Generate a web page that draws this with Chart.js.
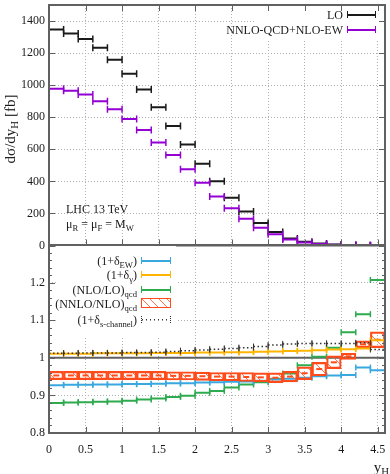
<!DOCTYPE html>
<html>
<head>
<meta charset="utf-8">
<script src="https://cdn.jsdelivr.net/npm/chart.js@4.4.1/dist/chart.umd.min.js"></script>
<style>
  body { margin: 0; background: #fff; width: 390px; height: 474px; overflow: hidden; position: relative;
         font-family: "Liberation Serif", serif; color: #1a1a1a; }
  .box { position: absolute; left: 0; width: 390px; }
  .txt { position: absolute; white-space: nowrap; font-size: 12px; line-height: 16px; }
  .txt sub { font-size: 0.72em; vertical-align: -0.3em; line-height: 0; }
  .eb { position: absolute; height: 7px; box-sizing: border-box; }
</style>
</head>
<body>
<div class="box" style="top:0;height:258px"><canvas id="topChart"></canvas></div>
<div class="box" style="top:240px;height:234px"><canvas id="ratioChart"></canvas></div>

<!-- axis titles -->
<div class="txt" style="left:-70px;top:121px;width:160px;text-align:center;font-size:15px;transform:rotate(-90deg)">dσ/dy<sub>H</sub> [fb]</div>
<div class="txt" style="right:1px;top:459px;font-size:15px">y<sub>H</sub></div>

<!-- top panel notes -->
<div class="txt" style="left:66px;top:201px">LHC 13 TeV</div>
<div class="txt" style="left:66px;top:216px">μ<sub>R</sub> = μ<sub>F</sub> = M<sub>W</sub></div>

<!-- top legend -->
<div class="txt" style="right:47px;top:7px">LO</div>
<div class="eb" id="lgLO" style="left:347px;top:11px;width:29px"></div>
<div class="txt" style="right:47px;top:22px">NNLO-QCD+NLO-EW</div>
<div class="eb" id="lgNNLO" style="left:347px;top:26px;width:29px"></div>

<!-- ratio legend -->
<div class="txt" style="right:253px;top:253px">(1+δ<sub>EW</sub>)</div>
<div class="eb" id="lgEW" style="left:141px;top:257px;width:30px"></div>
<div class="txt" style="right:253px;top:267px">(1+δ<sub>γ</sub>)</div>
<div class="eb" id="lgGam" style="left:141px;top:271px;width:30px"></div>
<div class="txt" style="right:253px;top:282px">(NLO/LO)<sub>qcd</sub></div>
<div class="eb" id="lgNLO" style="left:141px;top:286px;width:30px"></div>
<div class="txt" style="right:253px;top:296px">(NNLO/NLO)<sub>qcd</sub></div>
<div class="eb" id="lgNNLONLO" style="left:141px;top:298px;width:30px;height:10px"></div>
<div class="txt" style="right:253px;top:312px">(1+δ<sub>s-channel</sub>)</div>
<div class="eb" id="lgS" style="left:141px;top:316px;width:30px"></div>

<script>
// ==========================================
// DATA
// ==========================================

// rapidity bins (edges), 0.2 wide
const binEdges = [0, 0.2, 0.4, 0.6, 0.8, 1.0, 1.2, 1.4, 1.6, 1.8, 2.0, 2.2,
  2.4, 2.6, 2.8, 3.0, 3.2, 3.4, 3.6, 3.8, 4.0, 4.2, 4.4, 4.6];

// top panel: dsigma/dy_H [fb]
const loXsec = [1347, 1322, 1288, 1233, 1159, 1071, 973, 863, 746, 630, 510, 400,
  298, 212, 140, 84, 44, 24, 13, 6, 3, 1.2, 0.4];
const nnloXsec = [977, 965, 942, 900, 850, 789, 720, 642, 565, 475, 391, 305,
  232, 167, 110, 70, 38, 18, 9, 4.5, 2.2, 1, 0.4];

// ratio panel
const ewRatio = [0.927, 0.928, 0.928, 0.929, 0.929, 0.930, 0.930, 0.931, 0.932, 0.932, 0.934, 0.935,
  0.936, 0.937, 0.939, 0.942, 0.944, 0.947, 0.951, 0.953, 0.954, 0.974, 0.967];
const gammaRatio = [1.011, 1.011, 1.011, 1.012, 1.012, 1.012, 1.012, 1.013, 1.013, 1.013, 1.014, 1.014,
  1.015, 1.015, 1.016, 1.017, 1.018, 1.019, 1.020, 1.022, 1.023, 1.025, 1.047];
const nloLoRatio = [0.880, 0.881, 0.882, 0.883, 0.884, 0.886, 0.889, 0.892, 0.896, 0.899, 0.907, 0.912,
  0.921, 0.929, 0.935, 0.944, 0.958, 0.980, 1.003, 1.027, 1.068, 1.116, 1.207];
const nnloNloRatio = [0.953, 0.953, 0.953, 0.953, 0.953, 0.953, 0.953, 0.953, 0.952, 0.952, 0.951, 0.950,
  0.950, 0.949, 0.948, 0.947, 0.950, 0.959, 0.970, 0.988, 1.004, 1.036, 1.048];
const nnloNloErr = [0.011, 0.011, 0.011, 0.011, 0.011, 0.011, 0.011, 0.011, 0.011, 0.011, 0.011, 0.011,
  0.011, 0.012, 0.012, 0.013, 0.014, 0.017, 0.018, 0.017, 0.008, 0.009, 0.021];
const sChannelRatio = [1.012, 1.012, 1.013, 1.013, 1.013, 1.014, 1.014, 1.015, 1.017, 1.019, 1.021, 1.023,
  1.025, 1.027, 1.030, 1.034, 1.037, 1.038, 1.038, 1.038, 1.038, 1.040, 1.022];

// axis ticks
const xTickStep = 0.5;
const topYTickStep = 200;
const ratioYTickStep = 0.1;

// ==========================================
// COLORS / HELPERS
// ==========================================

const FRAME = "#606060";
const GRID = "#b0b0b0";
const C_LO = "#1a1a1a";
const C_NNLO = "#9400d3";
const C_EW = "#3aa8e0";
const C_GAM = "#ffb400";
const C_NLO = "#2eaa4f";
const C_RED = "#ff4b1a";
const C_S = "#333333";

Chart.defaults.font.family = "'Liberation Serif', serif";
Chart.defaults.font.size = 12;
Chart.defaults.color = "#1a1a1a";

// one horizontal segment per bin, broken by a null point
function binSegments(values) {
  const pts = [];
  values.forEach((v, i) => {
    pts.push({ x: binEdges[i], y: v }, { x: binEdges[i + 1], y: v }, { x: binEdges[i + 1], y: null });
  });
  return pts;
}

function binCenters(values) {
  return values.map((v, i) => ({ x: (binEdges[i] + binEdges[i + 1]) / 2, y: v }));
}

function errorBarSet(values, color, order, opts) {
  return Object.assign({
    type: "line",
    data: binSegments(values),
    borderColor: color,
    borderWidth: 2,
    pointStyle: "line",
    pointRotation: 90,
    pointRadius: 3.5,
    pointBorderWidth: 1.5,
    pointBorderColor: color,
    pointHoverRadius: 0,
    spanGaps: false,
    tension: 0,
    order: order,
  }, opts || {});
}

function hatchPattern(color) {
  const c = document.createElement("canvas");
  c.width = c.height = 12;
  const g = c.getContext("2d");
  g.strokeStyle = color;
  g.lineWidth = 1;
  g.beginPath();
  g.moveTo(0, 0); g.lineTo(12, 12);
  g.moveTo(-2, 10); g.lineTo(2, 14);
  g.moveTo(10, -2); g.lineTo(14, 2);
  g.stroke();
  return g.createPattern(c, "repeat");
}

// frame, inward ticks, white legend areas, reference line
const framePlugin = {
  id: "frame",
  beforeDatasetsDraw(chart, args, opts) {
    const ctx = chart.ctx;
    ctx.save();
    if (opts.blank) {
      ctx.fillStyle = "#fff";
      ctx.fillRect(opts.blank[0], opts.blank[1], opts.blank[2], opts.blank[3]);
    }
    if (opts.refLine !== undefined) {
      const a = chart.chartArea;
      const py = chart.scales.y.getPixelForValue(opts.refLine);
      ctx.strokeStyle = FRAME;
      ctx.lineWidth = 2;
      ctx.beginPath();
      ctx.moveTo(a.left, py);
      ctx.lineTo(a.right, py);
      ctx.stroke();
    }
    ctx.restore();
  },
  afterDraw(chart, args, opts) {
    const { ctx, chartArea: a, scales: { x, y } } = chart;
    ctx.save();
    ctx.strokeStyle = FRAME;
    ctx.lineWidth = 1;
    const seg = (x1, y1, x2, y2) => { ctx.beginPath(); ctx.moveTo(x1, y1); ctx.lineTo(x2, y2); ctx.stroke(); };
    x.ticks.forEach((t) => {
      const px = Math.round(x.getPixelForValue(t.value)) + 0.5;
      seg(px, a.bottom, px, a.bottom - 6);
      if (opts.topTicks) seg(px, a.top, px, a.top + 6);
    });
    y.ticks.forEach((t) => {
      const py = Math.round(y.getPixelForValue(t.value)) + 0.5;
      seg(a.left, py, a.left + 6, py);
      seg(a.right, py, a.right - 6, py);
    });
    if (opts.minorY) {
      for (let v = y.min; v <= y.max + 1e-9; v += opts.minorY) {
        const py = Math.round(y.getPixelForValue(v)) + 0.5;
        seg(a.left, py, a.left + 3, py);
        seg(a.right, py, a.right - 3, py);
      }
    }
    ctx.lineWidth = 2;
    ctx.strokeRect(a.left, a.top, a.right - a.left, a.bottom - a.top);
    ctx.restore();
  },
};

function fmt(v) {
  return String(Number(v.toFixed(2)));
}

function fitY(s) {
  s.width = 49;
  s.paddingTop = 0;
  s.paddingBottom = 0;
}

function fitX(h) {
  return (s) => {
    s.height = h;
    s.paddingLeft = 0;
    s.paddingRight = 0;
  };
}

// ==========================================
// TOP PANEL
// ==========================================

new Chart(document.getElementById("topChart"), {
  type: "line",
  data: {
    datasets: [
      errorBarSet(nnloXsec, C_NNLO, 0),
      errorBarSet(loXsec, C_LO, 1),
    ],
  },
  options: {
    responsive: true,
    maintainAspectRatio: false,
    animation: false,
    events: [],
    layout: { padding: { top: 1, right: 3, bottom: 12.5, left: 0 } },
    plugins: {
      legend: { display: false },
      tooltip: { enabled: false },
      frame: { topTicks: true, blank: [255, 8, 125, 32] },
    },
    scales: {
      x: {
        type: "linear",
        min: 0,
        max: 4.6,
        ticks: { display: false, stepSize: xTickStep, includeBounds: false },
        grid: { color: GRID, drawTicks: false },
        border: { display: false, dash: [1, 2] },
        afterFit: fitX(0),
      },
      y: {
        min: 0,
        max: 1500,
        ticks: { stepSize: topYTickStep, includeBounds: false, padding: 4, callback: (v) => fmt(v) },
        grid: { color: GRID, drawTicks: false },
        border: { display: false, dash: [1, 2] },
        afterFit: fitY,
      },
    },
  },
  plugins: [framePlugin],
});

// ==========================================
// RATIO PANEL
// ==========================================

new Chart(document.getElementById("ratioChart"), {
  type: "line",
  data: {
    datasets: [
      errorBarSet(sChannelRatio, C_S, 0, { borderWidth: 1.5, borderDash: [1.5, 2.5], pointBorderWidth: 1, pointRadius: 3 }),
      errorBarSet(gammaRatio, C_GAM, 1, { pointRadius: 3 }),
      {
        type: "line",
        data: binCenters(nnloNloRatio),
        showLine: false,
        pointStyle: "line",
        pointRadius: 3,
        pointBorderWidth: 2,
        pointBorderColor: C_RED,
        pointHoverRadius: 0,
        order: 2,
      },
      {
        type: "bar",
        data: nnloNloRatio.map((v, i) => ({
          x: (binEdges[i] + binEdges[i + 1]) / 2,
          y: [v - nnloNloErr[i], v + nnloNloErr[i]],
        })),
        backgroundColor: hatchPattern("rgba(255,90,50,0.85)"),
        borderColor: C_RED,
        borderWidth: 1.5,
        borderSkipped: false,
        barPercentage: 1,
        categoryPercentage: 1,
        grouped: false,
        order: 3,
      },
      errorBarSet(ewRatio, C_EW, 4, { pointRadius: 3 }),
      errorBarSet(nloLoRatio, C_NLO, 5, { pointRadius: 3 }),
    ],
  },
  options: {
    responsive: true,
    maintainAspectRatio: false,
    animation: false,
    events: [],
    layout: { padding: { top: 5, right: 3, bottom: 0, left: 0 } },
    plugins: {
      legend: { display: false },
      tooltip: { enabled: false },
      frame: { refLine: 1, minorY: 0.02, blank: [56, 6, 120, 91] },
    },
    scales: {
      x: {
        type: "linear",
        offset: false,
        min: 0,
        max: 4.6,
        ticks: { stepSize: xTickStep, includeBounds: false, padding: 10, maxRotation: 0, callback: (v) => fmt(v) },
        grid: { color: GRID, drawTicks: false, offset: false },
        border: { display: false, dash: [1, 2] },
        afterFit: fitX(41),
      },
      y: {
        min: 0.8,
        max: 1.3,
        ticks: {
          stepSize: ratioYTickStep,
          includeBounds: false,
          padding: 4,
          callback: (v) => (Math.abs(v - 1.3) < 1e-6 ? "" : fmt(v)),
        },
        grid: { color: GRID, drawTicks: false },
        border: { display: false, dash: [1, 2] },
        afterFit: fitY,
      },
    },
  },
  plugins: [framePlugin],
});

// ==========================================
// LEGEND SAMPLES (html)
// ==========================================

function styleErrorBar(id, color, dotted) {
  const el = document.getElementById(id);
  const edge = dotted ? "1px dotted " + color : "1.5px solid " + color;
  el.style.borderLeft = edge;
  el.style.borderRight = edge;
  if (dotted) {
    el.style.background = "repeating-linear-gradient(90deg," + color + " 0 1.5px, transparent 1.5px 4px) center / 100% 1.5px no-repeat";
  } else {
    el.style.background = "linear-gradient(" + color + "," + color + ") center / 100% 2px no-repeat";
  }
}

styleErrorBar("lgLO", C_LO);
styleErrorBar("lgNNLO", C_NNLO);
styleErrorBar("lgEW", C_EW);
styleErrorBar("lgGam", C_GAM);
styleErrorBar("lgNLO", C_NLO);
styleErrorBar("lgS", C_S, true);

const boxSample = document.getElementById("lgNNLONLO");
boxSample.style.border = "1.5px solid " + C_RED;
boxSample.style.background = "repeating-linear-gradient(45deg, transparent 0 5px, rgba(255,90,50,0.85) 5px 6px)";
</script>
</body>
</html>
